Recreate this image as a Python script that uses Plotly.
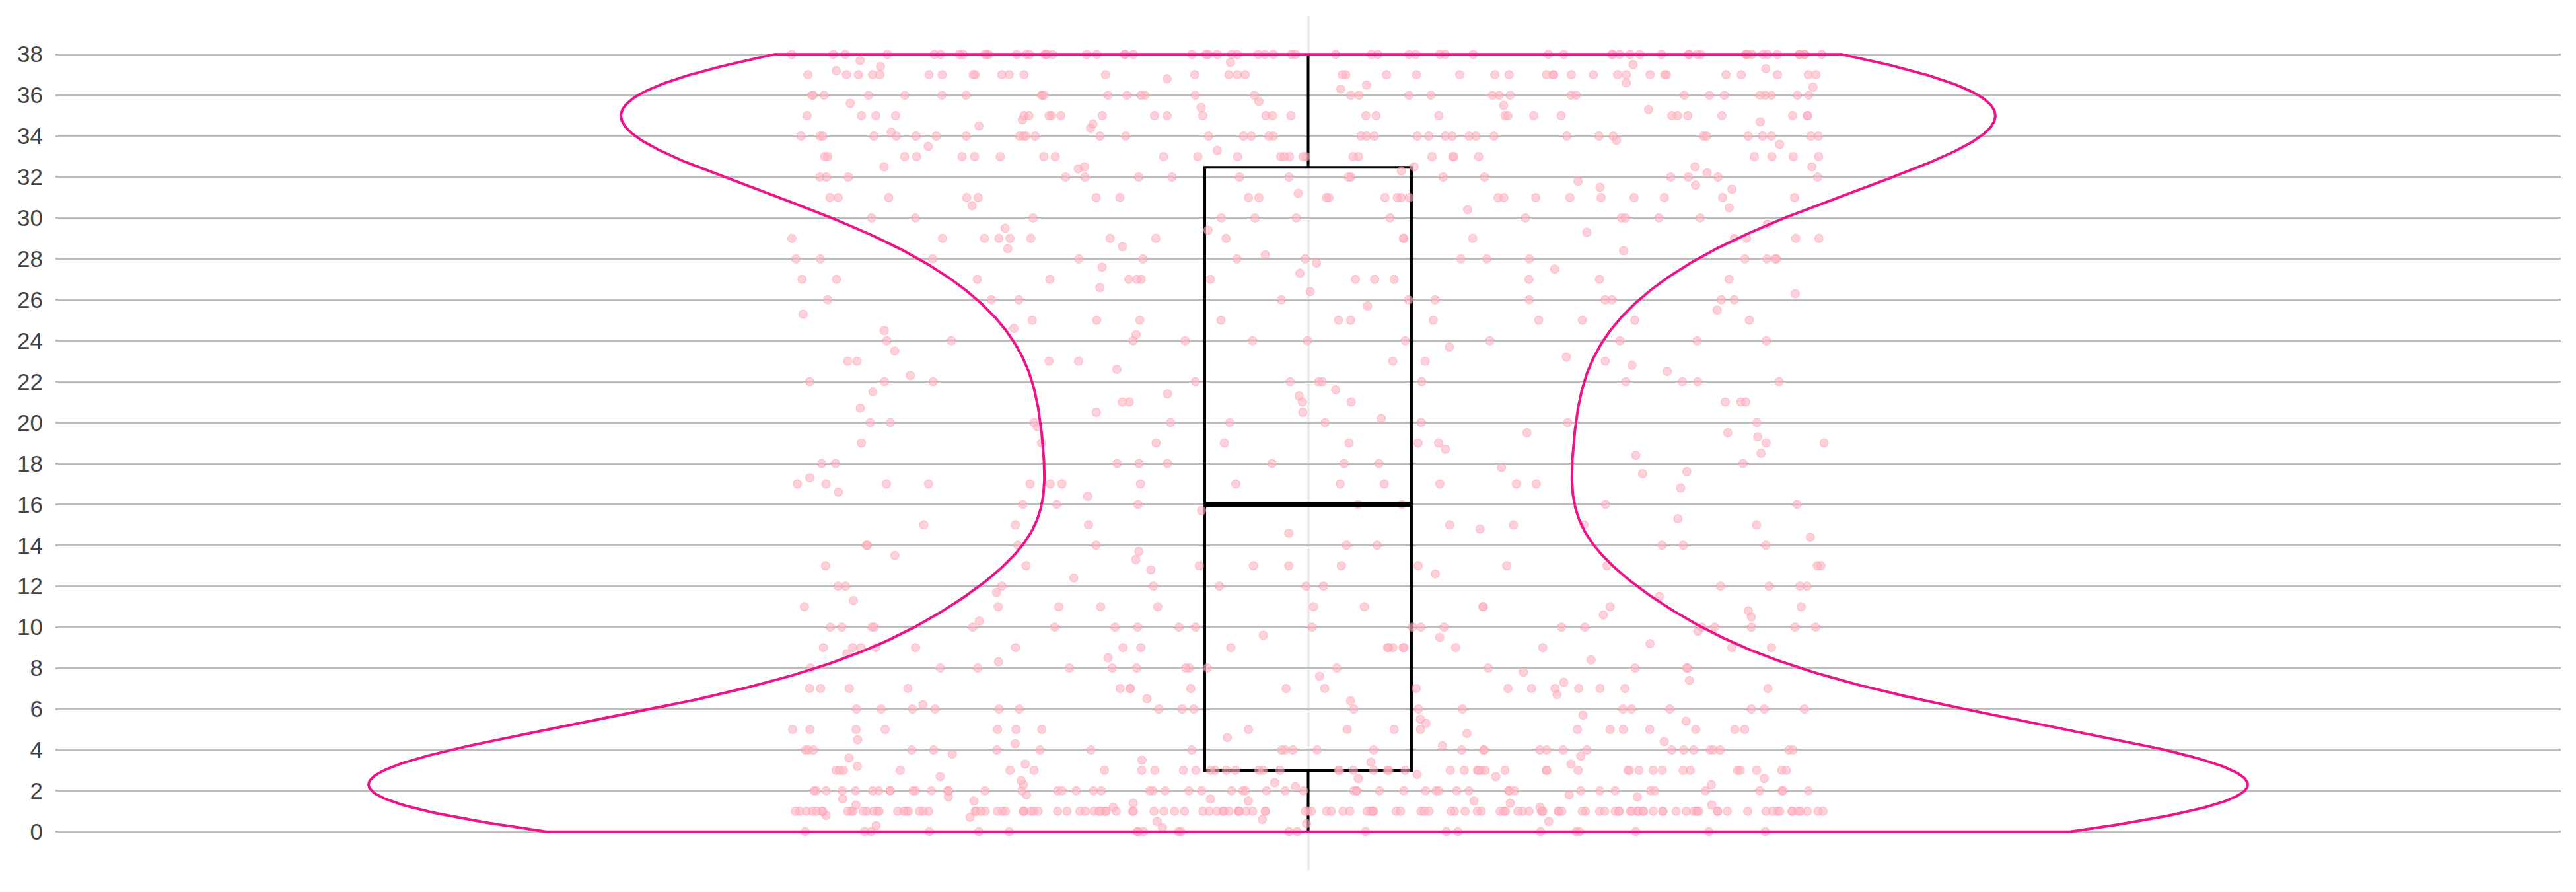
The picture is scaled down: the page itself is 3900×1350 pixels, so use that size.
import numpy as np
import plotly.graph_objects as go

# values sitting on whole numbers 0..38 and how many of each
row_values = list(range(39))
row_counts = [22, 135, 55, 47, 29, 18, 18, 18, 14, 18, 21, 11,
              11, 11, 9, 7, 7, 14, 9, 9, 9, 7, 12, 7, 11,
              11, 11, 14, 14, 16, 12, 24, 17, 27, 39, 30, 33, 39, 66]

# values lying between the whole numbers
off_row_values = [
    0.2, 0.3, 0.4, 0.5, 0.6, 0.7, 0.8, 0.5,
    1.2, 1.3, 1.4, 1.5, 1.6, 1.7, 1.8, 1.3, 1.5, 1.7, 1.4, 1.6, 1.2, 1.8, 1.5,
    2.2, 2.3, 2.5, 2.6, 2.7, 2.8, 2.4, 2.6, 2.3, 2.7,
    3.2, 3.3, 3.5, 3.6, 3.7, 3.4, 3.8, 3.3,
    4.2, 4.4, 4.5, 4.6, 4.8, 4.3,
    5.3, 5.5, 5.7, 5.4,
    6.2, 6.5, 6.7, 6.4,
    7.3, 7.6, 7.4, 7.8,
    8.3, 8.5, 8.7, 8.4,
    9.2, 9.5, 9.6, 9.8,
    10.3, 10.5, 10.6, 10.8,
    11.3, 11.5, 11.7,
    12.4, 12.6, 12.8,
    13.3, 13.5, 13.7,
    14.4, 14.6, 14.8,
    15.3, 15.7,
    16.4, 16.6, 16.8,
    17.3, 17.5, 17.6, 17.8,
    18.4, 18.5, 18.7,
    19.3, 19.5, 19.8, 19.5,
    20.2, 20.5, 20.7, 20.5,
    21.4, 21.6, 21.5, 21.3,
    22.3, 22.5, 22.8, 22.6,
    23.2, 23.5, 23.7,
    24.3, 24.5, 24.6,
    25.3, 25.5, 25.7,
    26.3, 26.6, 26.4,
    27.3, 27.5, 27.6, 27.8,
    28.2, 28.4, 28.6, 28.5,
    29.3, 29.5, 29.4, 29.7,
    30.4, 30.5, 30.6,
    31.2, 31.4, 31.5, 31.6, 31.8,
    32.2, 32.3, 32.4, 32.5, 32.5, 32.5, 32.5, 32.5,
    33.3, 33.5, 33.6, 33.8,
    34.2, 34.4, 34.5, 34.6, 34.7, 34.8,
    35.3, 35.5, 35.6, 35.4, 35.7,
    36.3, 36.5, 36.6, 36.4, 36.8,
    37.2, 37.4, 37.5, 37.6, 37.7, 37.3,
]

y_ticks = list(range(0, 39, 2))

values = np.concatenate([np.repeat(row_values, row_counts),
                         np.array(off_row_values)])

VIOLIN_WIDTH = 0.75
BOX_FRACTION = 0.11
BANDWIDTH = 3.0
PINK = "#EE1388"

# smooth density outline (gaussian KDE of the values, cut at min / max)
grid = np.linspace(values.min(), values.max(), 600)
dens = np.exp(-0.5 * ((grid[:, None] - values[None, :]) / BANDWIDTH) ** 2).sum(axis=1)
half = VIOLIN_WIDTH / 2 * dens / dens.max()
outline_x = np.concatenate([-half, half[::-1], [-half[0]]])
outline_y = np.concatenate([grid, grid[::-1], [grid[0]]])

fig = go.Figure()
fig.add_trace(go.Scatter(
    x=outline_x, y=outline_y, mode="lines",
    line=dict(color=PINK, width=4), hoverinfo="skip", showlegend=False,
))
fig.add_trace(go.Violin(
    y=values,
    x0=0,
    width=VIOLIN_WIDTH,
    bandwidth=BANDWIDTH,
    spanmode="hard",
    line=dict(color="rgba(0,0,0,0)", width=0),
    fillcolor="rgba(0,0,0,0)",
    points="all",
    jitter=0.55,
    pointpos=0,
    marker=dict(color="#FFB6C1", size=12, opacity=0.62,
                line=dict(color="#FFA3B5", width=2)),
    box=dict(visible=True, width=BOX_FRACTION,
             fillcolor="rgba(0,0,0,0)",
             line=dict(color="black", width=4)),
    meanline=dict(visible=False),
    showlegend=False,
    hoveron="points",
))

half_box = VIOLIN_WIDTH / 2 * BOX_FRACTION
med = float(np.median(values))
fig.add_shape(type="line", xref="x", yref="y",
              x0=-half_box, x1=half_box, y0=med, y1=med,
              line=dict(color="black", width=8))

fig.update_layout(
    width=3900, height=1350,
    margin=dict(l=84, r=23, t=24, b=33),
    paper_bgcolor="white", plot_bgcolor="white",
    font=dict(family="Liberation Sans, Arial, sans-serif", size=35, color="#444444"),
    xaxis=dict(range=[-0.5, 0.5], tickvals=[0], showticklabels=False,
               showgrid=True, gridcolor="#EBEBEB", gridwidth=4,
               zeroline=False, showline=False, ticks=""),
    yaxis=dict(range=[-1.88, 39.88], tickvals=y_ticks,
               showgrid=True, gridcolor="#BDBDBD", gridwidth=3,
               zeroline=False, showline=False, ticks="",
               ticklabelstandoff=18),
)

fig.write_html("out.html")
